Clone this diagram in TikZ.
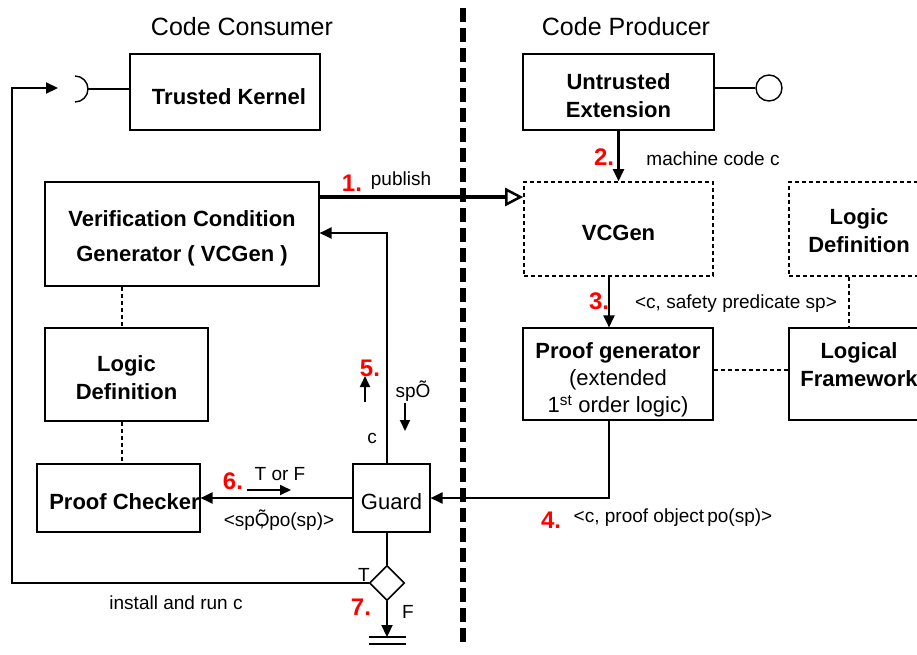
\documentclass[tikz,border=0pt]{standalone}
\usepackage{fontspec}
\setmainfont{Liberation Sans}
\usetikzlibrary{arrows.meta,shapes.geometric}
\tikzset{
  box/.style={draw, line width=1.1pt, inner sep=0pt, align=center, font=\fontsize{22}{28}\selectfont\bfseries},
  dbox/.style={box, dash pattern=on 4pt off 3pt, line width=1.6pt},
  lbl/.style={inner sep=0pt, font=\fontsize{19}{22}\selectfont},
  num/.style={inner sep=0pt, text=red, font=\fontsize{24}{26}\selectfont\bfseries},
  ttl/.style={inner sep=0pt, font=\fontsize{25}{28}\selectfont},
  conn/.style={line width=2.2pt},
  arr/.style={conn, -{Triangle[length=12pt,width=11pt]}},
  sarr/.style={line width=1.8pt, -{Triangle[length=11pt,width=10pt]}},
  dline/.style={line width=1.3pt, dash pattern=on 4pt off 3pt},
}
\newcommand{\upr}[1]{\rule{0pt}{#1}}
\newcommand{\dnr}[1]{\rule[-#1]{0pt}{#1}}
\begin{document}
\begin{tikzpicture}[x=1pt,y=-1pt]
\useasboundingbox (0,0) rectangle (917,654);
% divider
\draw[line width=5.5pt, dash pattern=on 14pt off 6pt] (463,8) -- (463,648);
% titles
\node[ttl] (tc) at (242,27) {Code Consumer};
\node[ttl] (tp) at (626,27) {Code Producer};
% boxes
\node[box, minimum width=190, minimum height=76] (tk) at (225,92) {\upr{26pt}\hspace*{8pt}Trusted Kernel};
\node[box, minimum width=191, minimum height=76] (ue) at (618.5,92) {\upr{24pt}Untrusted\\Extension};
\node[box, minimum width=274, minimum height=104, font=\fontsize{22}{35}\selectfont\bfseries] (vcg) at (182,234) {\upr{24pt}Verification Condition\\Generator ( VCGen )};
\node[dbox, minimum width=189, minimum height=94] (vcgen) at (618.5,229) {\upr{24pt}VCGen};
\node[dbox, minimum width=140, minimum height=94, text width=130] (ldr) at (859,229) {\upr{20pt}Logic\\Definition};
\node[box, minimum width=163, minimum height=93] (ldl) at (126.5,374.5) {\upr{22pt}Logic\\Definition};
\node[box, minimum width=163, minimum height=68] (pc) at (118.5,498) {\upr{24pt}\hspace*{12pt}Proof Checker};
\node[box, minimum width=77, minimum height=68, font=\fontsize{22}{26}\selectfont] (guard) at (391.5,498) {\upr{24pt}Guard};
\node[box, minimum width=190, minimum height=92, font=\fontsize{22}{27}\selectfont] (pg) at (618,374) {\upr{28pt}\textbf{Proof generator}\\(extended\\1\textsuperscript{st} order logic)};
\node[box, minimum width=140, minimum height=92, text width=130] (lf) at (859,374) {Logical\\Framework\dnr{18pt}};
\node[draw, diamond, line width=1.6pt, minimum width=35, minimum height=35, inner sep=0pt] (dec) at (387,583) {};
% socket and lollipop
\draw[line width=1.4pt] (75,76) arc[start angle=-90, end angle=90, radius=13] coordinate (skb);
\coordinate (skr) at (88,89);
\draw[line width=1.4pt] (skr) -- (tk.west |- skr);
\node[draw, circle, line width=1.4pt, minimum size=26, inner sep=0pt] (lp) at (769,88) {};
\draw[line width=1.4pt] (ue.east |- lp) -- (lp.west);
% connectors
\draw[line width=4pt, -{Triangle[open,length=18pt,width=18pt,line width=2.5pt]}] (vcg.east |- 0,197) -- (vcgen.west |- 0,197);
\coordinate (g5) at (387,233);
\draw[arr] (guard.north -| g5) -- (g5) -- (vcg.east |- g5);
\draw[arr] (ue.south) -- (vcgen.north);
\coordinate (a3) at (609,0);
\draw[arr] (vcgen.south -| a3) -- (pg.north -| a3);
\coordinate (a4) at (609,498);
\draw[arr] (pg.south -| a4) -- (a4) -- (guard.east);
\draw[arr] (guard.west) -- (pc.east);
\coordinate (kin) at (58,88);
\coordinate (bl) at (12,583);
\draw[arr] (dec.west) -- (bl) |- (kin);
\coordinate (gnd) at (387,637);
\draw[arr] (dec.south) -- (gnd);
\draw[line width=1.6pt] (369,637) -- (406,637);
\draw[line width=1.6pt] (369,644) -- (406,644);
\draw[line width=1.4pt] (dec.north) -- (guard.south -| dec.north);
% dashed links
\draw[dline] (vcg.south -| 122,0) -- (ldl.north -| 122,0);
\draw[dline] (ldl.south -| 122,0) -- (pc.north -| 122,0);
\draw[dline] (ldr.south -| 849,0) -- (lf.north -| 849,0);
\draw[dline] (pg.east |- 0,370) -- (lf.west |- 0,370);
% labels
\node[num] (n1) at (352,183) {1.};
\node[lbl] (l1) at (401,181) {publish};
\node[num] (n2) at (604,157) {2.};
\node[lbl] (l2) at (713,159) {machine code c};
\node[num] (n3) at (599,301) {3.};
\node[lbl] (l3) at (736,304) {<c, safety predicate sp>};
\node[num] (n4) at (551,520) {4.};
\node[lbl] (l4) at (673,518) {<c, proof object\,po(sp)>};
\node[num] (n5) at (370,368) {5.};
\node[lbl] (l5c) at (372,438) {c};
\node[lbl] (l5s) at (413,391) {spÕ};
\coordinate (u1) at (365,402); \coordinate (u2) at (365,376);
\draw[sarr] (u1) -- (u2);
\coordinate (d1) at (405,403); \coordinate (d2) at (405,431);
\draw[sarr] (d1) -- (d2);
\node[num] (n6) at (233,481) {6.};
\node[lbl] (l6) at (280,474) {T or F};
\coordinate (r1) at (247,490); \coordinate (r2) at (291,490);
\draw[sarr] (r1) -- (r2);
\node[lbl] (l6b) at (279,520) {<spÕ\kern-0.55em,\kern0.25em po(sp)>};
\node[lbl] (lt) at (364,575) {T};
\node[num] (n7) at (361,607) {7.};
\node[lbl] (lf2) at (408,612) {F};
\node[lbl] (lin) at (176,603) {install and run c};
\end{tikzpicture}
\end{document}
